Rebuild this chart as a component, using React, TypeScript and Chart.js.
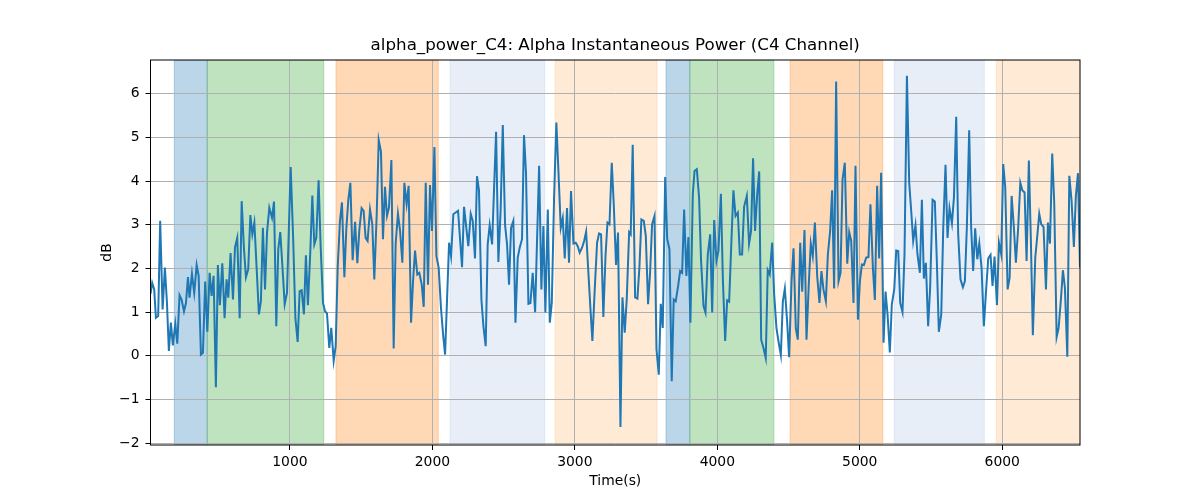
import React, { useEffect, useRef } from "react";
import Chart from "chart.js/auto";

const chartTitle = "alpha_power_C4: Alpha Instantaneous Power (C4 Channel)";
const xLabel = "Time(s)";
const yLabel = "dB";

const times = [
  21, 33, 47, 59, 75, 89, 106, 122, 136, 150, 164, 178, 195, 209, 225, 239, 256, 270, 284, 295,
  312, 328, 345, 359, 375, 389, 405, 420, 436, 450, 464, 480, 494, 508, 525, 541, 555, 567, 583, 600,
  614, 630, 647, 661, 677, 691, 707, 722, 736, 750, 766, 782, 796, 810, 825, 839, 855, 874, 888, 904,
  918, 932, 949, 963, 979, 1005, 1023, 1038, 1054, 1068, 1082, 1098, 1112, 1126, 1143, 1157, 1171, 1185, 1201, 1215,
  1232, 1246, 1260, 1276, 1290, 1307, 1321, 1335, 1351, 1365, 1382, 1396, 1410, 1424, 1440, 1457, 1473, 1487, 1503, 1517,
  1531, 1545, 1562, 1578, 1592, 1609, 1623, 1639, 1653, 1667, 1681, 1695, 1712, 1728, 1742, 1758, 1773, 1789, 1803, 1819,
  1833, 1850, 1864, 1878, 1894, 1908, 1925, 1939, 1953, 1969, 1983, 1997, 2014, 2028, 2044, 2060, 2075, 2089, 2117, 2131,
  2147, 2163, 2180, 2194, 2208, 2222, 2238, 2252, 2269, 2283, 2299, 2313, 2327, 2344, 2358, 2374, 2388, 2402, 2419, 2433,
  2447, 2463, 2479, 2494, 2510, 2524, 2538, 2552, 2568, 2583, 2599, 2613, 2629, 2643, 2657, 2674, 2688, 2704, 2721, 2735,
  2749, 2765, 2779, 2793, 2810, 2824, 2838, 2854, 2870, 2884, 2901, 2915, 2929, 2945, 2959, 2973, 2990, 3006, 3020, 3034,
  3051, 3065, 3079, 3095, 3109, 3123, 3140, 3156, 3170, 3184, 3200, 3215, 3229, 3243, 3259, 3273, 3289, 3303, 3320, 3334,
  3350, 3364, 3381, 3392, 3406, 3423, 3439, 3453, 3467, 3484, 3498, 3514, 3528, 3542, 3559, 3573, 3589, 3603, 3617, 3634,
  3648, 3664, 3680, 3694, 3708, 3725, 3739, 3753, 3767, 3783, 3797, 3811, 3828, 3840, 3856, 3872, 3886, 3903, 3917, 3933,
  3950, 3964, 3978, 3994, 4008, 4025, 4039, 4055, 4069, 4083, 4099, 4113, 4128, 4144, 4158, 4174, 4188, 4207, 4223, 4237,
  4251, 4265, 4280, 4294, 4308, 4324, 4340, 4354, 4368, 4385, 4399, 4415, 4429, 4446, 4460, 4474, 4490, 4504, 4521, 4535,
  4551, 4565, 4582, 4596, 4612, 4626, 4642, 4656, 4670, 4685, 4701, 4717, 4731, 4745, 4762, 4776, 4792, 4806, 4820, 4834,
  4851, 4865, 4879, 4895, 4912, 4926, 4940, 4956, 4970, 4987, 5001, 5015, 5029, 5045, 5061, 5075, 5092, 5106, 5122, 5136,
  5150, 5167, 5181, 5195, 5211, 5225, 5242, 5256, 5270, 5284, 5300, 5314, 5331, 5347, 5361, 5375, 5391, 5405, 5422, 5436,
  5450, 5464, 5480, 5494, 5511, 5527, 5541, 5555, 5572, 5586, 5602, 5616, 5630, 5647, 5661, 5677, 5691, 5707, 5724, 5738,
  5752, 5768, 5782, 5796, 5810, 5825, 5839, 5855, 5871, 5888, 5902, 5918, 5932, 5946, 5963, 5977, 5993, 6007, 6021, 6038,
  6052, 6066, 6082, 6096, 6112, 6127, 6141, 6157, 6171, 6187, 6201, 6215, 6232, 6246, 6260, 6274, 6290, 6307, 6321, 6335,
  6351, 6365, 6382, 6396, 6412, 6426, 6440, 6457, 6471, 6487, 6503, 6517, 6532, 6546,
];

const power = [
  1.42, 1.67, 1.52, 0.87, 0.91, 3.09, 1.06, 2.02, 1.25, 0.11, 0.76, 0.24, 0.73, 0.28, 1.39, 1.29, 1.02, 1.21, 1.80, 1.33,
  1.88, 1.44, 2.08, 1.83, 0.03, 0.07, 1.70, 0.55, 1.90, 1.37, 1.83, -0.72, 2.08, 1.16, 2.12, 0.86, 1.75, 1.33, 2.35, 1.29,
  2.48, 2.70, 0.86, 3.54, 2.46, 1.80, 1.98, 3.22, 2.78, 3.05, 2.02, 0.95, 1.25, 2.93, 1.52, 2.82, 3.39, 3.16, 3.53, 0.68,
  2.44, 2.83, 1.94, 1.18, 1.44, 4.32, 2.63, 0.87, 0.32, 1.48, 1.50, 0.95, 2.30, 1.16, 2.40, 3.67, 2.55, 2.70, 4.02, 2.55,
  1.21, 1.02, 0.97, 0.18, 0.64, -0.11, 0.22, 2.02, 3.09, 3.51, 1.80, 2.93, 3.58, 3.96, 2.19, 3.07, 2.12, 2.88, 3.38, 3.32,
  2.70, 2.63, 3.35, 3.01, 1.75, 3.24, 4.94, 4.67, 2.67, 3.87, 3.20, 3.39, 4.48, 0.17, 2.57, 3.25, 2.86, 2.13, 3.96, 3.47,
  3.89, 0.76, 1.71, 2.41, 1.86, 1.90, 1.63, 1.12, 3.96, 1.63, 3.91, 2.86, 4.78, 2.28, 2.02, 1.10, 0.49, 0.03, 2.59, 2.28,
  3.24, 3.28, 3.32, 2.67, 2.03, 3.41, 2.93, 2.51, 3.25, 3.09, 2.23, 4.11, 3.79, 1.29, 0.68, 0.22, 2.55, 2.99, 2.55, 3.85,
  5.13, 2.15, 3.35, 5.28, 2.99, 2.55, 1.63, 2.93, 3.09, 0.76, 2.25, 2.48, 2.67, 5.05, 4.19, 1.19, 1.21, 1.90, 1.00, 2.70,
  4.35, 1.52, 2.97, 0.99, 3.35, 0.76, 1.21, 3.62, 5.34, 4.27, 2.93, 3.15, 2.23, 3.38, 2.13, 3.77, 2.57, 2.59, 2.51, 2.36,
  2.48, 2.63, 2.84, 1.90, 1.10, 0.34, 1.56, 2.59, 2.80, 2.78, 0.89, 2.28, 3.05, 3.01, 4.42, 3.47, 2.08, 2.82, -1.63, 1.34,
  0.53, 1.29, 2.83, 2.78, 4.83, 1.34, 1.31, 2.02, 3.12, 3.09, 2.74, 1.18, 1.90, 3.01, 3.20, 0.15, -0.43, 1.19, 0.64, 4.09,
  2.68, 2.44, -0.58, 1.29, 1.25, 1.60, 1.94, 1.90, 3.35, 1.83, 2.72, 0.76, 3.70, 4.23, 4.27, 3.62, 2.17, 1.14, 0.99, 2.32,
  2.78, 0.99, 3.11, 2.17, 2.40, 3.71, 1.75, 0.34, 1.27, 1.24, 2.63, 3.79, 3.20, 3.28, 2.32, 2.32, 3.41, 3.66, 2.57, 2.86,
  4.52, 2.86, 3.70, 4.22, 0.37, 0.18, -0.05, 1.96, 1.86, 2.59, 1.41, 0.64, 0.34, 0.02, 1.25, 1.54, 0.79, -0.03, 1.71, 2.46,
  0.63, 0.37, 2.59, 1.47, 2.88, 0.37, 1.63, 2.57, 2.28, 3.05, 1.83, 1.21, 1.94, 1.52, 1.25, 2.32, 2.86, 3.79, 1.54, 6.28,
  1.71, 1.90, 4.04, 4.42, 2.11, 2.83, 2.63, 1.21, 4.35, 0.83, 1.71, 2.09, 2.08, 2.25, 2.26, 3.47, 2.02, 1.28, 3.89, 2.23,
  4.19, 0.30, 1.47, 0.95, 0.08, 1.18, 1.52, 2.41, 2.40, 1.21, 1.00, 2.32, 6.41, 3.96, 3.32, 2.63, 2.99, 2.32, 1.90, 3.57,
  1.77, 2.13, 0.68, 1.56, 3.57, 3.53, 2.17, 0.55, 0.95, 2.93, 4.37, 2.70, 3.38, 3.03, 3.62, 5.47, 2.78, 1.75, 1.57, 1.71,
  2.97, 5.16, 2.93, 1.94, 2.92, 2.21, 2.57, 2.02, 0.68, 1.56, 2.23, 2.31, 1.60, 2.27, 1.16, 2.59, 2.32, 4.39, 3.87, 1.52,
  1.79, 3.66, 2.93, 2.13, 2.93, 3.96, 3.79, 3.74, 2.17, 4.47, 2.67, 0.47, 2.25, 2.74, 3.25, 3.01, 2.95, 1.52, 3.05, 2.57,
  4.63, 3.51, 0.43, 0.64, 1.29, 1.96, 1.56, -0.02, 4.12, 3.54, 2.49, 3.66, 4.18, 2.02,
];

// shaded phases (seconds) and their colour group
const phaseStarts = [188, 419, 1323, 2124, 2861, 3640, 3807, 4511, 5242, 5958];
const phaseEnds = [419, 1237, 2041, 2789, 3577, 3807, 4397, 5162, 5874, 6600];
const phaseKinds = [0, 1, 2, 3, 4, 0, 1, 2, 3, 4];

const xTicks = [1000, 2000, 3000, 4000, 5000, 6000];
const yTicks = [-2, -1, 0, 1, 2, 3, 4, 5, 6];

const phaseColors = [
  "rgba(31,119,180,0.3)",
  "rgba(44,160,44,0.3)",
  "rgba(255,127,14,0.3)",
  "rgba(174,199,232,0.3)",
  "rgba(255,187,120,0.3)",
];

const FONT = "'DejaVu Sans', 'Liberation Sans', sans-serif";

export default function App() {
  const ref = useRef<HTMLCanvasElement>(null);

  useEffect(() => {
    const canvas = ref.current!;
    const overlay = {
      id: "overlay",
      beforeDraw(chart: any) {
        const { ctx, chartArea } = chart;
        const xs = chart.scales.x;
        ctx.save();
        ctx.beginPath();
        ctx.rect(chartArea.left, chartArea.top, chartArea.right - chartArea.left, chartArea.bottom - chartArea.top);
        ctx.clip();
        for (let i = 0; i < phaseStarts.length; i++) {
          const x0 = xs.getPixelForValue(phaseStarts[i]);
          const x1 = xs.getPixelForValue(phaseEnds[i]);
          const c = phaseColors[phaseKinds[i]];
          ctx.fillStyle = c;
          ctx.fillRect(x0, chartArea.top, x1 - x0, chartArea.bottom - chartArea.top);
          ctx.strokeStyle = c;
          ctx.lineWidth = 1;
          ctx.strokeRect(x0, chartArea.top, x1 - x0, chartArea.bottom - chartArea.top);
        }
        ctx.restore();
      },
      afterDatasetsDraw(chart: any) {
        const { ctx, chartArea } = chart;
        ctx.save();
        ctx.strokeStyle = "#000";
        ctx.lineWidth = 1;
        ctx.strokeRect(chartArea.left, chartArea.top, chartArea.right - chartArea.left, chartArea.bottom - chartArea.top);
        ctx.restore();
      },
      afterDraw(chart: any) {
        const { ctx, chartArea } = chart;
        const cx = (chartArea.left + chartArea.right) / 2;
        const cy = (chartArea.top + chartArea.bottom) / 2;
        ctx.save();
        ctx.fillStyle = "#000";
        ctx.textAlign = "center";
        ctx.textBaseline = "middle";
        ctx.font = `16.7px ${FONT}`;
        ctx.fillText(chartTitle, cx, 46);
        ctx.font = `13.9px ${FONT}`;
        ctx.fillText(xLabel, cx, 481);
        ctx.translate(107, cy);
        ctx.rotate(-Math.PI / 2);
        ctx.fillText(yLabel, 0, 0);
        ctx.restore();
      },
    };

    const chart = new Chart(canvas, {
      type: "line",
      data: {
        datasets: [
          {
            data: times.map((t, i) => ({ x: t, y: power[i] })),
            borderColor: "#1f77b4",
            borderWidth: 2,
            pointRadius: 0,
            tension: 0,
            fill: false,
          },
        ],
      },
      options: {
        animation: false,
        responsive: false,
        events: [],
        layout: { padding: { top: 60, right: 120, bottom: 0, left: 0 } },
        plugins: {
          legend: { display: false },
          tooltip: { enabled: false },
          title: { display: false },
        },
        scales: {
          x: {
            type: "linear",
            min: times[0],
            max: times[times.length - 1],
            afterBuildTicks: (s: any) => {
              s.ticks = xTicks.map((v) => ({ value: v }));
            },
            afterFit: (s: any) => {
              s.height = 55;
            },
            grid: { color: "#b0b0b0", lineWidth: 1, tickColor: "#000", tickLength: 5 },
            border: { display: false },
            ticks: {
              color: "#000",
              font: { family: FONT, size: 13.9 },
              padding: 4,
              maxRotation: 0,
              autoSkip: false,
              callback: (v: any) => String(v),
            },
          },
          y: {
            type: "linear",
            min: -2.04,
            max: 6.77,
            afterBuildTicks: (s: any) => {
              s.ticks = yTicks.map((v) => ({ value: v }));
            },
            afterFit: (s: any) => {
              s.width = 150.5;
            },
            grid: { color: "#b0b0b0", lineWidth: 1, tickColor: "#000", tickLength: 5 },
            border: { display: false },
            ticks: {
              color: "#000",
              font: { family: FONT, size: 13.9 },
              padding: 6,
              autoSkip: false,
              callback: (v: any) => String(v).replace("-", "\u2212"),
            },
          },
        },
      },
      plugins: [overlay],
    } as any);
    return () => chart.destroy();
  }, []);

  return (
    <div style={{ position: "fixed", left: 0, top: 0, width: 1200, height: 500, background: "#fff" }}>
      <canvas ref={ref} width={1200} height={500} style={{ width: 1200, height: 500, display: "block" }} />
    </div>
  );
}
